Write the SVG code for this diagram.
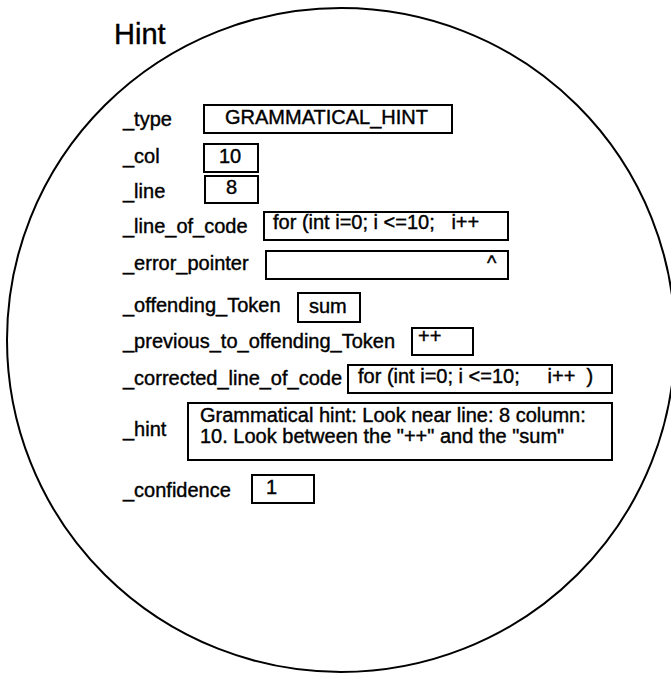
<svg xmlns="http://www.w3.org/2000/svg" width="671" height="674" viewBox="0 0 671 674">
  <style>
    text { font-family: "Liberation Sans", Arial, sans-serif; fill: #000; stroke: #000; stroke-width: 0.4; }
    .lbl { font-size: 20px; }
    .val { font-size: 20px; white-space: pre; }
    .title { font-size: 29px; }
    .box { fill: #fff; stroke: #000; stroke-width: 2; }
  </style>
  <rect width="671" height="674" fill="#fff"/>
  <!-- object boundary -->
  <ellipse cx="341" cy="340" rx="334" ry="332" fill="none" stroke="#000" stroke-width="2"/>
  <text class="title" x="114" y="44">Hint</text>

  <g id="type">
    <text class="lbl" x="123" y="126">_type</text>
    <rect class="box" x="204" y="105" width="248" height="28"/>
    <text class="val" x="225" y="124">GRAMMATICAL_HINT</text>
  </g>
  <g id="col">
    <text class="lbl" x="123" y="163">_col</text>
    <rect class="box" x="204" y="144" width="54" height="28"/>
    <text class="val" x="219" y="163">10</text>
  </g>
  <g id="line">
    <text class="lbl" x="123" y="198">_line</text>
    <rect class="box" x="205" y="176" width="53" height="27"/>
    <text class="val" x="226" y="194">8</text>
  </g>
  <g id="line_of_code">
    <text class="lbl" x="123" y="233">_line_of_code</text>
    <rect class="box" x="264" y="212" width="244" height="28"/>
    <text class="val" x="273" y="229">for (int i=0; i &lt;=10;   i++</text>
  </g>
  <g id="error_pointer">
    <text class="lbl" x="123" y="270">_error_pointer</text>
    <rect class="box" x="266" y="251" width="242" height="28"/>
    <text class="val" x="487" y="270">^</text>
  </g>
  <g id="offending_Token">
    <text class="lbl" x="123" y="312">_offending_Token</text>
    <rect class="box" x="298" y="293" width="62" height="29"/>
    <text class="val" x="309" y="313">sum</text>
  </g>
  <g id="previous_to_offending_Token">
    <text class="lbl" x="123" y="348">_previous_to_offending_Token</text>
    <rect class="box" x="412" y="328" width="61" height="27"/>
    <text class="val" x="418" y="343">++</text>
  </g>
  <g id="corrected_line_of_code">
    <text class="lbl" x="123" y="385">_corrected_line_of_code</text>
    <rect class="box" x="348" y="365" width="264" height="28"/>
    <text class="val" x="358" y="383">for (int i=0; i &lt;=10;     i++  )</text>
  </g>
  <g id="hint">
    <text class="lbl" x="123" y="436">_hint</text>
    <rect class="box" x="188" y="403" width="424" height="57"/>
    <text class="val" x="200" y="422">Grammatical hint: Look near line: 8 column:</text>
    <text class="val" x="200" y="443">10. Look between the "++" and the "sum"</text>
  </g>
  <g id="confidence">
    <text class="lbl" x="123" y="497">_confidence</text>
    <rect class="box" x="252" y="475" width="62" height="28"/>
    <text class="val" x="266" y="494">1</text>
  </g>
</svg>
